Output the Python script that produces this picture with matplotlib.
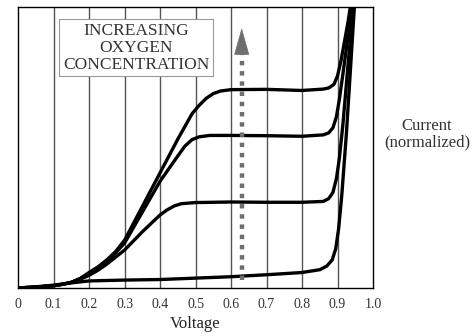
import numpy as np
import matplotlib
matplotlib.use("Agg")
import matplotlib.pyplot as plt

plt.rcParams["font.family"] = ["Liberation Serif", "DejaVu Serif"]

# ── data ─────────────────────────────────────────────────────────────
v_low = [0, 0.05, 0.1, 0.15, 0.2, 0.3, 0.4, 0.5, 0.6, 0.7, 0.8, 0.85, 0.87,
         0.885, 0.895, 0.903, 0.912, 0.925, 0.94, 0.95]
i_low = [0, 0.004, 0.01, 0.018, 0.025, 0.028, 0.03, 0.035, 0.04, 0.047,
         0.055, 0.065, 0.078, 0.1, 0.14, 0.21, 0.33, 0.55, 0.85, 1.05]

v_mid = [0, 0.05, 0.1, 0.125, 0.15, 0.175, 0.2, 0.225, 0.25, 0.275, 0.3,
         0.35, 0.4, 0.42, 0.44, 0.46, 0.5, 0.6, 0.7, 0.8, 0.86, 0.875,
         0.887, 0.897, 0.905, 0.915, 0.93, 0.948]
i_mid = [0, 0.003, 0.008, 0.013, 0.02, 0.031, 0.045, 0.063, 0.085, 0.11,
         0.135, 0.2, 0.26, 0.278, 0.292, 0.3, 0.304, 0.306, 0.305, 0.305,
         0.308, 0.318, 0.34, 0.39, 0.46, 0.58, 0.8, 1.05]

v_high = [0, 0.05, 0.1, 0.125, 0.15, 0.175, 0.2, 0.225, 0.25, 0.275, 0.3,
          0.35, 0.4, 0.45, 0.47, 0.49, 0.51, 0.54, 0.6, 0.7, 0.8, 0.86,
          0.875, 0.887, 0.897, 0.905, 0.915, 0.93, 0.945]
i_high = [0, 0.003, 0.008, 0.013, 0.02, 0.033, 0.05, 0.07, 0.095, 0.125,
          0.16, 0.27, 0.38, 0.47, 0.505, 0.528, 0.538, 0.543, 0.543, 0.542,
          0.54, 0.545, 0.552, 0.57, 0.61, 0.67, 0.76, 0.9, 1.05]

v_top = [0, 0.05, 0.1, 0.125, 0.15, 0.175, 0.2, 0.225, 0.25, 0.275, 0.3,
         0.35, 0.4, 0.45, 0.49, 0.51, 0.53, 0.55, 0.57, 0.6, 0.7, 0.8, 0.86,
         0.875, 0.89, 0.9, 0.91, 0.92, 0.93, 0.942]
i_top = [0, 0.003, 0.008, 0.013, 0.02, 0.034, 0.055, 0.075, 0.1, 0.13,
         0.17, 0.29, 0.41, 0.53, 0.62, 0.65, 0.675, 0.692, 0.701, 0.706,
         0.707, 0.703, 0.708, 0.712, 0.725, 0.755, 0.81, 0.88, 0.95, 1.05]

curves = [(v_low, i_low), (v_mid, i_mid), (v_high, i_high), (v_top, i_top)]

x_ticks = [0, 0.1, 0.2, 0.3, 0.4, 0.5, 0.6, 0.7, 0.8, 0.9, 1.0]
x_tick_labels = ["0", "0.1", "0.2", "0.3", "0.4", "0.5", "0.6", "0.7",
                 "0.8", "0.9", "1.0"]

arrow_x = 0.63
arrow_from = 0.03
arrow_to = 0.935

fig = plt.figure(figsize=(4.77, 3.36), dpi=100)
ax = fig.add_axes([0.038, 0.143, 0.744, 0.836])

for xv in x_ticks[1:-1]:
    ax.axvline(xv, color="#555555", linewidth=1.0, zorder=1)

for v, i in curves:
    ax.plot(v, i, color="black", linewidth=2.4, solid_capstyle="round",
            solid_joinstyle="round", zorder=3)

# dotted arrow showing increasing oxygen
ax.plot([arrow_x, arrow_x], [arrow_from, arrow_to - 0.09], color="#6e6e6e",
        linewidth=3.2, linestyle=(0, (1, 1.3)), zorder=4)
ax.annotate("", xy=(arrow_x, arrow_to), xytext=(arrow_x, arrow_to - 0.09),
            arrowprops=dict(arrowstyle="-|>,head_length=0.6,head_width=0.17",
                            color="#6e6e6e", mutation_scale=30,
                            linewidth=0.5), zorder=4)

ax.text(0.332, 0.855, "INCREASING\nOXYGEN\nCONCENTRATION", ha="center",
        va="center", fontsize=12.5, color="#333333", linespacing=1.08,
        zorder=5,
        bbox=dict(boxstyle="square,pad=0.2", facecolor="white",
                  edgecolor="#999999", linewidth=0.8))

ax.set_xlim(0, 1.0)
ax.set_ylim(0, 1.0)
ax.set_xticks(x_ticks)
ax.set_xticklabels(x_tick_labels)
ax.set_yticks([])
ax.tick_params(axis="x", length=0, labelsize=10, pad=7, colors="#333333")
for s in ax.spines.values():
    s.set_color("black")
    s.set_linewidth(1.0)

ax.set_xlabel("Voltage", fontsize=12, labelpad=4, color="#222222")
fig.text(0.895, 0.6, "Current\n(normalized)", ha="center", va="center",
         fontsize=12, color="#333333", linespacing=1.0)

fig.savefig("out.png", dpi=100)
